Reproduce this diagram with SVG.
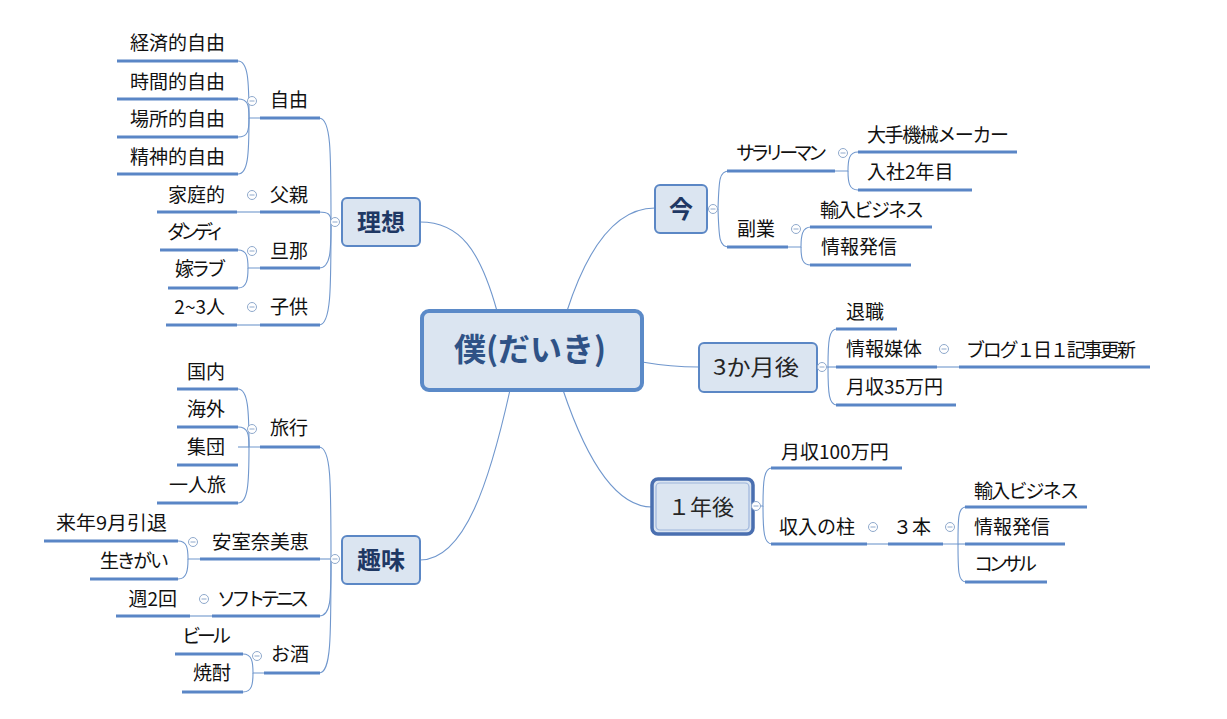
<svg xmlns="http://www.w3.org/2000/svg" width="1227" height="719" viewBox="0 0 1227 719">
<defs>
<style>
.bg{fill:#ffffff}
.box{fill:#dbe5f1;stroke:#5b87c5;stroke-width:2}
.cbox{fill:#dbe5f1;stroke:#5b8ac8;stroke-width:4}
.c{fill:none;stroke:#7097cd;stroke-width:1.1}
.u{fill:none;stroke:#5a86c6;stroke-width:3}
.t{font-family:"Noto Sans CJK JP","Noto Sans",sans-serif;font-size:19px;fill:#111111}
.e{text-anchor:end}
.m{font-family:"Noto Sans CJK JP","Noto Sans",sans-serif;font-weight:bold;font-size:24px;fill:#1f3864;text-anchor:middle}
.m2{font-family:"Noto Sans CJK JP","Noto Sans",sans-serif;font-size:22px;fill:#262626;text-anchor:middle}
.ct{font-family:"Noto Sans CJK JP","Noto Sans",sans-serif;font-weight:bold;font-size:32px;fill:#2f5286}
</style>
<g id="col">
<circle cx="0" cy="0" r="4.5" fill="#ffffff" stroke="#8fa9cc" stroke-width="1"/>
<path d="M-2.5,0H2.5" stroke="#8fa9cc" stroke-width="1"/>
</g>
</defs>
<rect class="bg" width="1227" height="719"/>

<g id="connectors">
<path class="c" d="M497,311 C480,250 460,222 420,222"/>
<path class="c" d="M510,390 C490,480 465,560 420,560"/>
<path class="c" d="M567,311 C590,240 620,208 655,208"/>
<path class="c" d="M642,362 C665,366 680,367 699,367"/>
<path class="c" d="M563,390 C590,470 620,507 652,507"/>
<path class="c" d="M335,222 H331 C331,150 331,118 319,118"/>
<path class="c" d="M331,222 C331,214 328,212 319,212"/>
<path class="c" d="M331,222 C331,250 331,268 319,268"/>
<path class="c" d="M331,222 C331,290 331,325 319,325"/>
<path class="c" d="M260,118 H249 C249,80 248,61 238,61"/>
<path class="c" d="M249,118 C249,105 248,99 238,99"/>
<path class="c" d="M249,118 C249,131 248,137 238,137"/>
<path class="c" d="M249,118 C249,155 248,174 238,174"/>
<path class="c" d="M237,212 H260"/>
<path class="c" d="M260,268 H248 C248,257 247,250 238,250"/>
<path class="c" d="M248,268 C248,279 247,288 238,288"/>
<path class="c" d="M237,325 H260"/>
<path class="c" d="M335,559 H331 C331,480 331,447 319,447"/>
<path class="c" d="M331,559 H319"/>
<path class="c" d="M331,559 C331,600 331,616 319,616"/>
<path class="c" d="M331,559 C331,640 331,673 319,673"/>
<path class="c" d="M260,447 H249 C249,410 248,389 238,389"/>
<path class="c" d="M249,447 C249,434 248,427 238,427"/>
<path class="c" d="M249,447 H238"/>
<path class="c" d="M249,447 C249,484 248,503 238,503"/>
<path class="c" d="M200,559 H188 C188,548 187,541 178,541"/>
<path class="c" d="M188,559 C188,570 187,579 178,579"/>
<path class="c" d="M190,616 H212"/>
<path class="c" d="M264,673 H253 C253,662 252,654 243,654"/>
<path class="c" d="M253,673 C253,684 252,692 243,692"/>
<path class="c" d="M707,209 H718 C719,180 719,171 729,171"/>
<path class="c" d="M718,209 C719,238 719,247 729,247"/>
<path class="c" d="M835,171 H848 C848,160 849,152 858,152"/>
<path class="c" d="M848,171 C848,182 849,190 858,190"/>
<path class="c" d="M788,247 H801 C801,236 802,227 811,227"/>
<path class="c" d="M801,247 C801,258 802,265 811,265"/>
<path class="c" d="M817,367 H828 C828,340 829,329 837,329"/>
<path class="c" d="M828,367 H837"/>
<path class="c" d="M828,367 C828,394 829,405 837,405"/>
<path class="c" d="M937,367 H959"/>
<path class="c" d="M753,506 H763 C763,480 764,468 772,468"/>
<path class="c" d="M763,506 C763,532 764,544 772,544"/>
<path class="c" d="M867,544 H888"/>
<path class="c" d="M943,544 H958 C958,518 958,507 966,507"/>
<path class="c" d="M958,544 H966"/>
<path class="c" d="M958,544 C958,570 958,582 966,582"/>
</g>

<g id="center">
<rect class="cbox" x="422" y="311" width="220" height="79" rx="7"/>
<text class="ct" x="454" y="361" textLength="152" lengthAdjust="spacingAndGlyphs">僕(だいき)</text>
</g>

<g id="risou">
<rect class="box" x="342" y="198" width="78" height="48" rx="5"/>
<text class="m" x="381" y="231">理想</text>
<use href="#col" x="335" y="222"/>
</g>
<g id="jiyu">
<path class="u" d="M260,118 H320"/>
<text class="t e" x="308" y="107">自由</text>
<use href="#col" x="252" y="101"/>
</g>
<g id="keizai"><path class="u" d="M117,61 H238"/><text class="t e" x="225" y="50">経済的自由</text></g>
<g id="jikan"><path class="u" d="M117,99 H238"/><text class="t e" x="225" y="89">時間的自由</text></g>
<g id="basho"><path class="u" d="M117,137 H238"/><text class="t e" x="225" y="126">場所的自由</text></g>
<g id="seishin"><path class="u" d="M117,174 H238"/><text class="t e" x="225" y="164">精神的自由</text></g>
<g id="chichioya">
<path class="u" d="M260,212 H320"/>
<text class="t e" x="308" y="202">父親</text>
<use href="#col" x="252" y="195"/>
</g>
<g id="kateiteki"><path class="u" d="M157,212 H237"/><text class="t e" x="225" y="202">家庭的</text></g>
<g id="danna">
<path class="u" d="M260,268 H320"/>
<text class="t e" x="308" y="258">旦那</text>
<use href="#col" x="252" y="251"/>
</g>
<g id="dandy"><path class="u" d="M160,250 H238"/><text class="t e" x="225" y="239" textLength="58" lengthAdjust="spacing">ダンディ</text></g>
<g id="yomelove"><path class="u" d="M168,288 H238"/><text class="t e" x="226" y="276" textLength="51" lengthAdjust="spacing">嫁ラブ</text></g>
<g id="kodomo">
<path class="u" d="M260,325 H320"/>
<text class="t e" x="308" y="314">子供</text>
<use href="#col" x="252" y="307"/>
</g>
<g id="ninzu"><path class="u" d="M166,325 H237"/><text class="t e" x="225" y="314">2~3人</text></g>

<g id="shumi">
<rect class="box" x="342" y="536" width="78" height="48" rx="5"/>
<text class="m" x="381" y="569">趣味</text>
<use href="#col" x="335" y="559"/>
</g>
<g id="ryoko">
<path class="u" d="M260,447 H320"/>
<text class="t e" x="308" y="435">旅行</text>
<use href="#col" x="252" y="429"/>
</g>
<g id="kokunai"><path class="u" d="M177,389 H238"/><text class="t e" x="225" y="379">国内</text></g>
<g id="kaigai"><path class="u" d="M177,427 H238"/><text class="t e" x="225" y="416">海外</text></g>
<g id="shudan"><path class="u" d="M177,465 H238"/><text class="t e" x="225" y="454">集団</text></g>
<g id="hitoritabi"><path class="u" d="M157,503 H238"/><text class="t e" x="226" y="492">一人旅</text></g>
<g id="amuro">
<path class="u" d="M200,559 H320"/>
<text class="t e" x="309" y="549" textLength="97" lengthAdjust="spacingAndGlyphs">安室奈美恵</text>
<use href="#col" x="193" y="542"/>
</g>
<g id="inntai"><path class="u" d="M44,541 H178"/><text class="t e" x="167" y="530" textLength="111" lengthAdjust="spacingAndGlyphs">来年9月引退</text></g>
<g id="ikigai"><path class="u" d="M90,579 H178"/><text class="t e" x="169" y="568" textLength="69" lengthAdjust="spacing">生きがい</text></g>
<g id="tennis">
<path class="u" d="M212,616 H320"/>
<text class="t e" x="309" y="606" textLength="92" lengthAdjust="spacing">ソフトテニス</text>
<use href="#col" x="204" y="599"/>
</g>
<g id="shu2"><path class="u" d="M116,616 H190"/><text class="t e" x="177" y="606">週2回</text></g>
<g id="osake">
<path class="u" d="M264,673 H320"/>
<text class="t e" x="309" y="661">お酒</text>
<use href="#col" x="257" y="656"/>
</g>
<g id="beer"><path class="u" d="M175,654 H243"/><text class="t e" x="231" y="643" textLength="49" lengthAdjust="spacing">ビール</text></g>
<g id="shochu"><path class="u" d="M182,692 H243"/><text class="t e" x="231" y="680">焼酎</text></g>

<g id="ima">
<rect class="box" x="655" y="185" width="52" height="48" rx="5"/>
<text class="m" x="681" y="218">今</text>
<use href="#col" x="713" y="209"/>
</g>
<g id="salaryman">
<path class="u" d="M727,171 H835"/>
<text class="t" x="736" y="160" textLength="91" lengthAdjust="spacing">サラリーマン</text>
<use href="#col" x="843" y="153"/>
</g>
<g id="ootemaker"><path class="u" d="M858,152 H1017"/><text class="t" x="867" y="142" textLength="142" lengthAdjust="spacing">大手機械メーカー</text></g>
<g id="nyusha"><path class="u" d="M858,190 H972"/><text class="t" x="867" y="179">入社2年目</text></g>
<g id="fukugyo">
<path class="u" d="M727,247 H788"/>
<text class="t" x="737" y="236">副業</text>
<use href="#col" x="796" y="229"/>
</g>
<g id="yunyu1"><path class="u" d="M810,227 H932"/><text class="t" x="820" y="217" textLength="104" lengthAdjust="spacing">輸入ビジネス</text></g>
<g id="joho1"><path class="u" d="M810,265 H911"/><text class="t" x="821" y="254">情報発信</text></g>

<g id="sankagetsu">
<rect class="box" x="699" y="343" width="118" height="49" rx="5"/>
<text class="m2" x="756" y="375" textLength="86" lengthAdjust="spacingAndGlyphs">3か月後</text>
<use href="#col" x="822" y="367"/>
</g>
<g id="taishoku"><path class="u" d="M836,329 H897"/><text class="t" x="846" y="319">退職</text></g>
<g id="johobaitai">
<path class="u" d="M836,367 H937"/>
<text class="t" x="846" y="356">情報媒体</text>
<use href="#col" x="944" y="349"/>
</g>
<g id="blog"><path class="u" d="M959,367 H1150"/><text class="t" x="966" y="357" textLength="170" lengthAdjust="spacing">ブログ１日１記事更新</text></g>
<g id="gesshu35"><path class="u" d="M836,405 H956"/><text class="t" x="846" y="394">月収35万円</text></g>

<g id="ichinengo">
<rect x="652" y="479" width="101" height="55" rx="6" fill="#dbe5f1" stroke="#4a6fb0" stroke-width="3.5"/>
<rect x="656" y="483" width="93" height="47" rx="4" fill="none" stroke="#9db5dc" stroke-width="1.2"/>
<text class="m2" x="701" y="515">１年後</text>
<use href="#col" x="756" y="506"/>
</g>
<g id="gesshu100"><path class="u" d="M771,468 H902"/><text class="t" x="781" y="459">月収100万円</text></g>
<g id="shunyu">
<path class="u" d="M771,544 H867"/>
<text class="t" x="779" y="534">収入の柱</text>
<use href="#col" x="873" y="527"/>
</g>
<g id="sanbon">
<path class="u" d="M888,544 H943"/>
<text class="t" x="893" y="534">３本</text>
<use href="#col" x="950" y="527"/>
</g>
<g id="yunyu2"><path class="u" d="M965,507 H1087"/><text class="t" x="974" y="498" textLength="105" lengthAdjust="spacing">輸入ビジネス</text></g>
<g id="joho2"><path class="u" d="M965,544 H1065"/><text class="t" x="974" y="534">情報発信</text></g>
<g id="consul"><path class="u" d="M965,582 H1047"/><text class="t" x="974" y="571" textLength="63" lengthAdjust="spacing">コンサル</text></g>
</svg>
